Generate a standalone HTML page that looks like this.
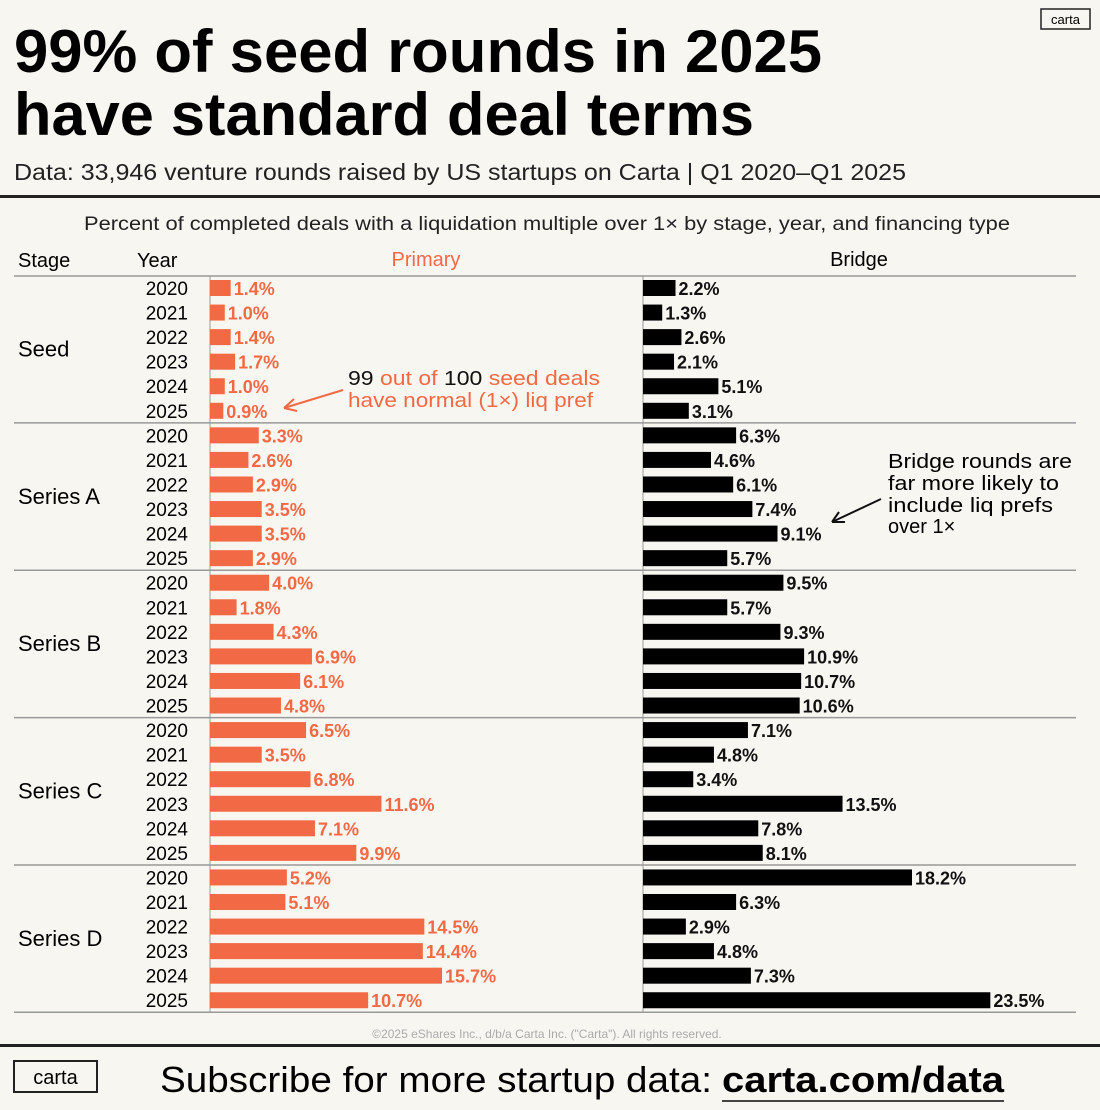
<!DOCTYPE html>
<html><head><meta charset="utf-8"><style>
html,body{margin:0;padding:0;background:#f8f6f1;}
svg{display:block;font-family:"Liberation Sans",sans-serif;}
</style></head><body>
<svg id="chart" width="1100" height="1110" viewBox="0 0 1100 1110">
<rect x="0" y="0" width="1100" height="1110" fill="#f8f6f1"/>
<text x="14" y="72" font-size="60" font-weight="bold" textLength="808" lengthAdjust="spacingAndGlyphs">99% of seed rounds in 2025</text>
<text x="14" y="135" font-size="60" font-weight="bold" textLength="740" lengthAdjust="spacingAndGlyphs">have standard deal terms</text>
<text x="14" y="180" font-size="23" fill="#222" textLength="892" lengthAdjust="spacingAndGlyphs">Data: 33,946 venture rounds raised by US startups on Carta | Q1 2020–Q1 2025</text>
<rect x="1041" y="9" width="49" height="20" fill="none" stroke="#222" stroke-width="1.5"/>
<text x="1065.5" y="24" font-size="13" text-anchor="middle">carta</text>
<rect x="0" y="195" width="1100" height="3" fill="#222"/>
<text x="547" y="230" font-size="19" fill="#222" text-anchor="middle" textLength="926" lengthAdjust="spacingAndGlyphs">Percent of completed deals with a liquidation multiple over 1× by stage, year, and financing type</text>
<text x="18" y="267" font-size="20">Stage</text>
<text x="137" y="267" font-size="20">Year</text>
<text x="426" y="266" font-size="20" fill="#f26a45" text-anchor="middle">Primary</text>
<text x="859" y="266" font-size="20" text-anchor="middle">Bridge</text>
<g id="rows"></g>
<g>
<text x="348" y="385" font-size="20" fill="#f26a45" textLength="252" lengthAdjust="spacingAndGlyphs"><tspan fill="#111">99</tspan> out of <tspan fill="#111">100</tspan> seed deals</text>
<text x="348" y="407" font-size="20" fill="#f26a45" textLength="245" lengthAdjust="spacingAndGlyphs">have normal (1×) liq pref</text>
<path d="M343 390 L284 408 M284 408 l10 -9 M284 408 l13 3" stroke="#f26a45" stroke-width="2" fill="none"/>
</g>
<g>
<text x="888" y="468" font-size="20" textLength="184" lengthAdjust="spacingAndGlyphs">Bridge rounds are</text>
<text x="888" y="490" font-size="20" textLength="171" lengthAdjust="spacingAndGlyphs">far more likely to</text>
<text x="888" y="512" font-size="20" textLength="165" lengthAdjust="spacingAndGlyphs">include liq prefs</text>
<text x="888" y="533" font-size="20">over 1×</text>
<path d="M881 499 L832 522 M832 522 l13 0 M832 522 l7 -10" stroke="#111" stroke-width="2" fill="none"/>
</g>
<text x="547" y="1038" font-size="12" fill="#aaa" text-anchor="middle">©2025 eShares Inc., d/b/a Carta Inc. ("Carta"). All rights reserved.</text>
<rect x="0" y="1044" width="1100" height="3" fill="#222"/>
<rect x="14" y="1061" width="83" height="31" fill="none" stroke="#222" stroke-width="2"/>
<text x="55.5" y="1084" font-size="20" text-anchor="middle">carta</text>
<text x="160" y="1092" font-size="36" textLength="552" lengthAdjust="spacingAndGlyphs">Subscribe for more startup data:</text>
<text x="722" y="1092" font-size="36" font-weight="bold" textLength="282" lengthAdjust="spacingAndGlyphs">carta.com/data</text>
<rect x="722" y="1100" width="282" height="2" fill="#444"/>
</svg>
<script>
const stages = ["Seed","Series A","Series B","Series C","Series D"];
const years = ["2020","2021","2022","2023","2024","2025"];
const primaryValues = [1.4,1.0,1.4,1.7,1.0,0.9, 3.3,2.6,2.9,3.5,3.5,2.9, 4.0,1.8,4.3,6.9,6.1,4.8, 6.5,3.5,6.8,11.6,7.1,9.9, 5.2,5.1,14.5,14.4,15.7,10.7];
const bridgeValues = [2.2,1.3,2.6,2.1,5.1,3.1, 6.3,4.6,6.1,7.4,9.1,5.7, 9.5,5.7,9.3,10.9,10.7,10.6, 7.1,4.8,3.4,13.5,7.8,8.1, 18.2,6.3,2.9,4.8,7.3,23.5];

const NS = "http://www.w3.org/2000/svg";
const g = document.getElementById("rows");
const PX = 210, BX = 643, K = 14.78;
const rowY = i => 288 + i * 24.56;
const xP = v => PX + v * K;
const xB = v => BX + v * K;
function mk(tag, attrs) {
  const e = document.createElementNS(NS, tag);
  for (const k in attrs) e.setAttribute(k, attrs[k]);
  g.appendChild(e);
  return e;
}
for (let s = 0; s <= stages.length; s++) {
  const y = s === 0 ? 276 : rowY(s * 6) - 12.5;
  const ln = mk("line", {x1: 14, x2: 1076, y1: y, y2: y, stroke: "#999", "stroke-width": 1.5});
  
  
}
const ax1 = mk("line", {x1: PX, x2: PX, y1: 276, y2: 1013, stroke: "#999", "stroke-width": 1});


const ax2 = mk("line", {x1: BX, x2: BX, y1: 276, y2: 1013, stroke: "#999", "stroke-width": 1});


stages.forEach((st, s) => {
  const t = mk("text", {x: 18, y: (rowY(s * 6) + rowY(s * 6 + 5)) / 2 + 7, "font-size": 22});
  t.textContent = st;
  
  
  years.forEach((yr, j) => {
    const i = s * 6 + j, y = rowY(i);
    const yl = mk("text", {x: 188, y: y + 7, "font-size": 19, "text-anchor": "end"});
    yl.textContent = yr;
    
    
    const pv = primaryValues[i], bv = bridgeValues[i];
    const pb = mk("rect", {x: PX, y: y - 8, width: xP(pv) - PX, height: 16, fill: "#f26a45"});
    
    
    const pl = mk("text", {x: xP(pv) + 3, y: y + 7, "font-size": 18, "font-weight": "bold", fill: "#f26a45"});
    pl.textContent = pv.toFixed(1) + "%";
    
    
    const bb = mk("rect", {x: BX, y: y - 8, width: xB(bv) - BX, height: 16, fill: "#000"});
    
    
    const bl = mk("text", {x: xB(bv) + 3, y: y + 7, "font-size": 18, "font-weight": "bold", fill: "#111"});
    bl.textContent = bv.toFixed(1) + "%";
    
    
  });
});
</script>
</body></html>
